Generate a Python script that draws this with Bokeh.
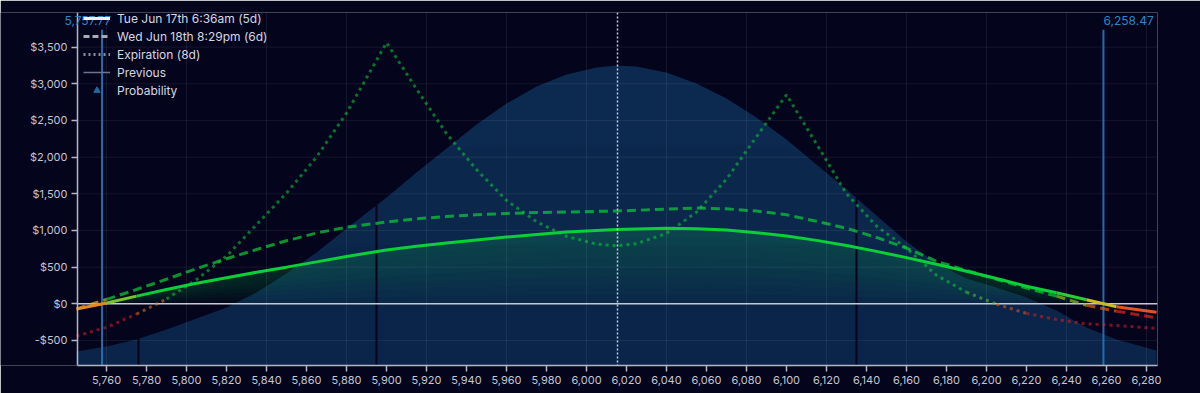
import numpy as np
from bokeh.plotting import figure
from bokeh.models import (Range1d, FixedTicker, SingleIntervalTicker, NumeralTickFormatter,
                          CustomJSTickFormatter, Legend, LegendItem, Span, Label)
from bokeh.embed import file_html
from bokeh.resources import INLINE

# ---------------- data ----------------
price = [5745, 5760, 5775, 5790, 5805, 5820, 5835, 5850, 5865, 5880,
         5900, 5915, 5930, 5945, 5960, 5975, 5990, 6005, 6015, 6025,
         6040, 6055, 6070, 6085, 6100, 6115, 6130, 6145, 6160, 6175,
         6190, 6205, 6220, 6235, 6250, 6265, 6285]

# Tue Jun 17th 6:36am (5d)
pnl_t1 = [-70, 12, 105, 195, 280, 355, 430, 500, 572, 645,
          735, 785, 830, 870, 910, 945, 978, 1000, 1012, 1020,
          1030, 1025, 1005, 970, 925, 865, 795, 715, 630, 540,
          445, 345, 240, 150, 55, -40, -115]

# Wed Jun 18th 8:29pm (6d)
pnl_t2 = [-70, 60, 195, 335, 480, 615, 740, 860, 965, 1045,
          1115, 1160, 1190, 1215, 1232, 1245, 1252, 1260, 1265, 1275,
          1292, 1305, 1295, 1265, 1215, 1125, 1030, 905, 760, 580,
          455, 335, 215, 105, -20, -100, -190]

# Expiration (8d)
pnl_exp = [-440, -320, -140, 65, 330, 650, 1080, 1510, 2000, 2600,
           3560, 2930, 2320, 1830, 1410, 1120, 920, 815, 790, 820,
           960, 1250, 1700, 2280, 2850, 2180, 1500, 1060, 760, 390,
           158, -5, -130, -215, -273, -295, -335]

# Probability distribution (relative units)
prob = [0.14, 0.19, 0.26, 0.36, 0.47, 0.58, 0.73, 0.92, 1.13, 1.37,
        1.68, 1.93, 2.17, 2.41, 2.62, 2.79, 2.91, 2.98, 3.00, 2.99,
        2.93, 2.82, 2.67, 2.48, 2.26, 2.01, 1.76, 1.50, 1.24, 1.02,
        0.87, 0.78, 0.68, 0.55, 0.38, 0.26, 0.15]

move_lines = [5776, 5895, 6135]
breakevens = [5757.77, 6258.47]
breakeven_labels = ["5,757.77", "6,258.47"]
current_price = 6015.5

x_ticks = list(range(5760, 6281, 20))
y_ticks = list(range(-500, 3501, 500))

legend_labels = ["Tue Jun 17th 6:36am (5d)", "Wed Jun 18th 8:29pm (6d)",
                 "Expiration (8d)", "Previous", "Probability"]

# ---------------- styling ----------------
BG = "#04041d"
FONT = "Inter"
AX_X = 5745.5          # where the y axis sits
X1 = 6285.5
X0 = AX_X - 77 / 2.0   # frame reaches the left edge of the canvas
Y0, Y1 = -841, 3972
LINE_TOP = 3737
LABEL_Y = 3860

p = figure(width=1200, height=393, x_range=Range1d(X0, X1), y_range=Range1d(Y0, Y1),
           output_backend="svg", toolbar_location=None,
           min_border_left=0, min_border_right=43, min_border_top=12, min_border_bottom=28,
           background_fill_color=BG, border_fill_color=BG, outline_line_color=None)
p.extra_y_ranges = {"prob": Range1d(0, 3.53)}

# axes
for ax in (p.xaxis[0], p.yaxis[0]):
    ax.axis_line_color = "#b4b6c2"
    ax.axis_line_width = 1.5
    ax.major_tick_line_color = "#b4b6c2"
    ax.major_tick_line_width = 1.5
    ax.major_tick_out = 6
    ax.major_tick_in = 0
    ax.minor_tick_line_color = None
    ax.major_label_text_color = "#c4c6d0"
    ax.major_label_text_font = FONT
    ax.major_label_text_font_size = "11px"
    ax.major_label_standoff = 4
p.yaxis.fixed_location = AX_X
p.xaxis.bounds = (AX_X, X1)
p.xaxis.ticker = FixedTicker(ticks=x_ticks)
p.xaxis.formatter = NumeralTickFormatter(format="0,0")
p.yaxis.ticker = FixedTicker(ticks=y_ticks)
p.yaxis.formatter = CustomJSTickFormatter(
    code="const a = Math.abs(tick).toLocaleString('en-US'); return (tick < 0 ? '-$' : '$') + a;")

# grid: vertical lines every 40 pts via Grid, horizontal lines as segments right of the axis
p.xgrid.ticker = SingleIntervalTicker(interval=40, num_minor_ticks=0)
p.xgrid.bounds = (AX_X, X1)
p.xgrid.grid_line_color = "white"
p.xgrid.grid_line_alpha = 0.07
p.xgrid.level = "overlay"
p.ygrid.grid_line_color = None

# probability bell
prob_arr = np.array(prob)
p.varea(x=price, y1=0, y2=prob, y_range_name="prob", fill_color="#0a2549", fill_alpha=1.0)
for t in [1.2, 2.2]:
    p.varea(x=price, y1=np.minimum(prob_arr, t), y2=prob, y_range_name="prob",
            fill_color="#1f4f8c", fill_alpha=0.06)

# green gradient fill under the current curve
pos = np.maximum(np.array(pnl_t1, dtype=float), 0)
N = 8
for k in range(N):
    p.varea(x=price, y1=pos * k / N, y2=pos, fill_color="#12b860", fill_alpha=0.035)

# horizontal grid lines
p.segment(x0=[AX_X] * len(y_ticks), y0=y_ticks, x1=[X1] * len(y_ticks), y1=y_ticks,
          line_color="white", line_alpha=0.07, line_width=1)

# expected-move lines
p.segment(x0=move_lines, y0=[0] * len(move_lines), x1=move_lines,
          y1=list(np.interp(move_lines, price, prob)), y_range_name="prob",
          line_color="#03041a", line_width=2)

# zero line + current price
p.segment(x0=[AX_X], y0=[0], x1=[X1], y1=[0], line_color="#c6c8d2", line_width=1.5)
p.add_layout(Span(location=current_price, dimension="height", line_color="#c8ccd6",
                  line_width=1.5, line_dash="2 2"))

# breakeven lines and labels
p.segment(x0=breakevens, y0=[Y0] * 2, x1=breakevens, y1=[LINE_TOP] * 2,
          line_color="#1f6fae", line_width=2)
p.add_layout(Label(x=breakevens[0], y=LABEL_Y, text=breakeven_labels[0], text_align="right",
                   text_baseline="middle", x_offset=9, text_color="#2a86c6", text_font=FONT,
                   text_font_size="12px"))
p.add_layout(Label(x=breakevens[1], y=LABEL_Y, text=breakeven_labels[1], text_align="left",
                   text_baseline="middle", x_offset=0, text_color="#2a86c6", text_font=FONT,
                   text_font_size="12px"))

# value -> colour map
stops = [(-150, (225, 30, 35)), (-50, (235, 100, 30)), (0, (220, 185, 30)), (120, (10, 208, 55))]


def vcolor(v):
    if v <= stops[0][0]:
        c = stops[0][1]
    elif v >= stops[-1][0]:
        c = stops[-1][1]
    else:
        for (a, ca), (b, cb) in zip(stops[:-1], stops[1:]):
            if a <= v <= b:
                t = (v - a) / (b - a)
                c = tuple(int(round(ca[i] + (cb[i] - ca[i]) * t)) for i in range(3))
                break
    return "#%02x%02x%02x" % c


def draw_runs(xs, ys, alpha, width, dash):
    cols = [vcolor((ys[i] + ys[i + 1]) / 2) for i in range(len(xs) - 1)]
    i = 0
    while i < len(cols):
        j = i
        while j + 1 < len(cols) and cols[j + 1] == cols[i]:
            j += 1
        p.line(xs[i:j + 2], ys[i:j + 2], line_color=cols[i], line_alpha=alpha,
               line_width=width, line_dash=dash)
        i = j + 1


draw_runs(price, pnl_exp, 0.55, 3, "3 4")
draw_runs(price, pnl_t2, 0.7, 3, "9 5")
draw_runs(price, pnl_t1, 1.0, 3, "solid")

# legend style samples (placed outside the visible range)
off_x = [X0 - 60, X0 - 50]
off_y = [0, 0]
r1 = p.line(off_x, off_y, line_color="#f0f0f4", line_width=3)
r2 = p.line(off_x, off_y, line_color="#a8acb8", line_width=3, line_dash="6 3")
r3 = p.line(off_x, off_y, line_color="#8a8e9c", line_width=3, line_dash="2 3")
r4 = p.line(off_x, off_y, line_color="#6c7490", line_width=1.5)
r5 = p.scatter(off_x[:1], off_y[:1], marker="triangle", size=16,
               fill_color="#1c6aa6", line_color="#1c6aa6")
items = [LegendItem(label=lab, renderers=[r]) for lab, r in zip(legend_labels, [r1, r2, r3, r4, r5])]
legend = Legend(items=items, location=(83, 267), background_fill_alpha=0, border_line_alpha=0,
                label_text_color="#d6d8e0", label_text_font=FONT, label_text_font_size="12px",
                glyph_width=27, glyph_height=16, label_height=16, label_standoff=7,
                spacing=2, padding=0, margin=0)
p.add_layout(legend)

open("out.html", "w").write(file_html(p, INLINE))
